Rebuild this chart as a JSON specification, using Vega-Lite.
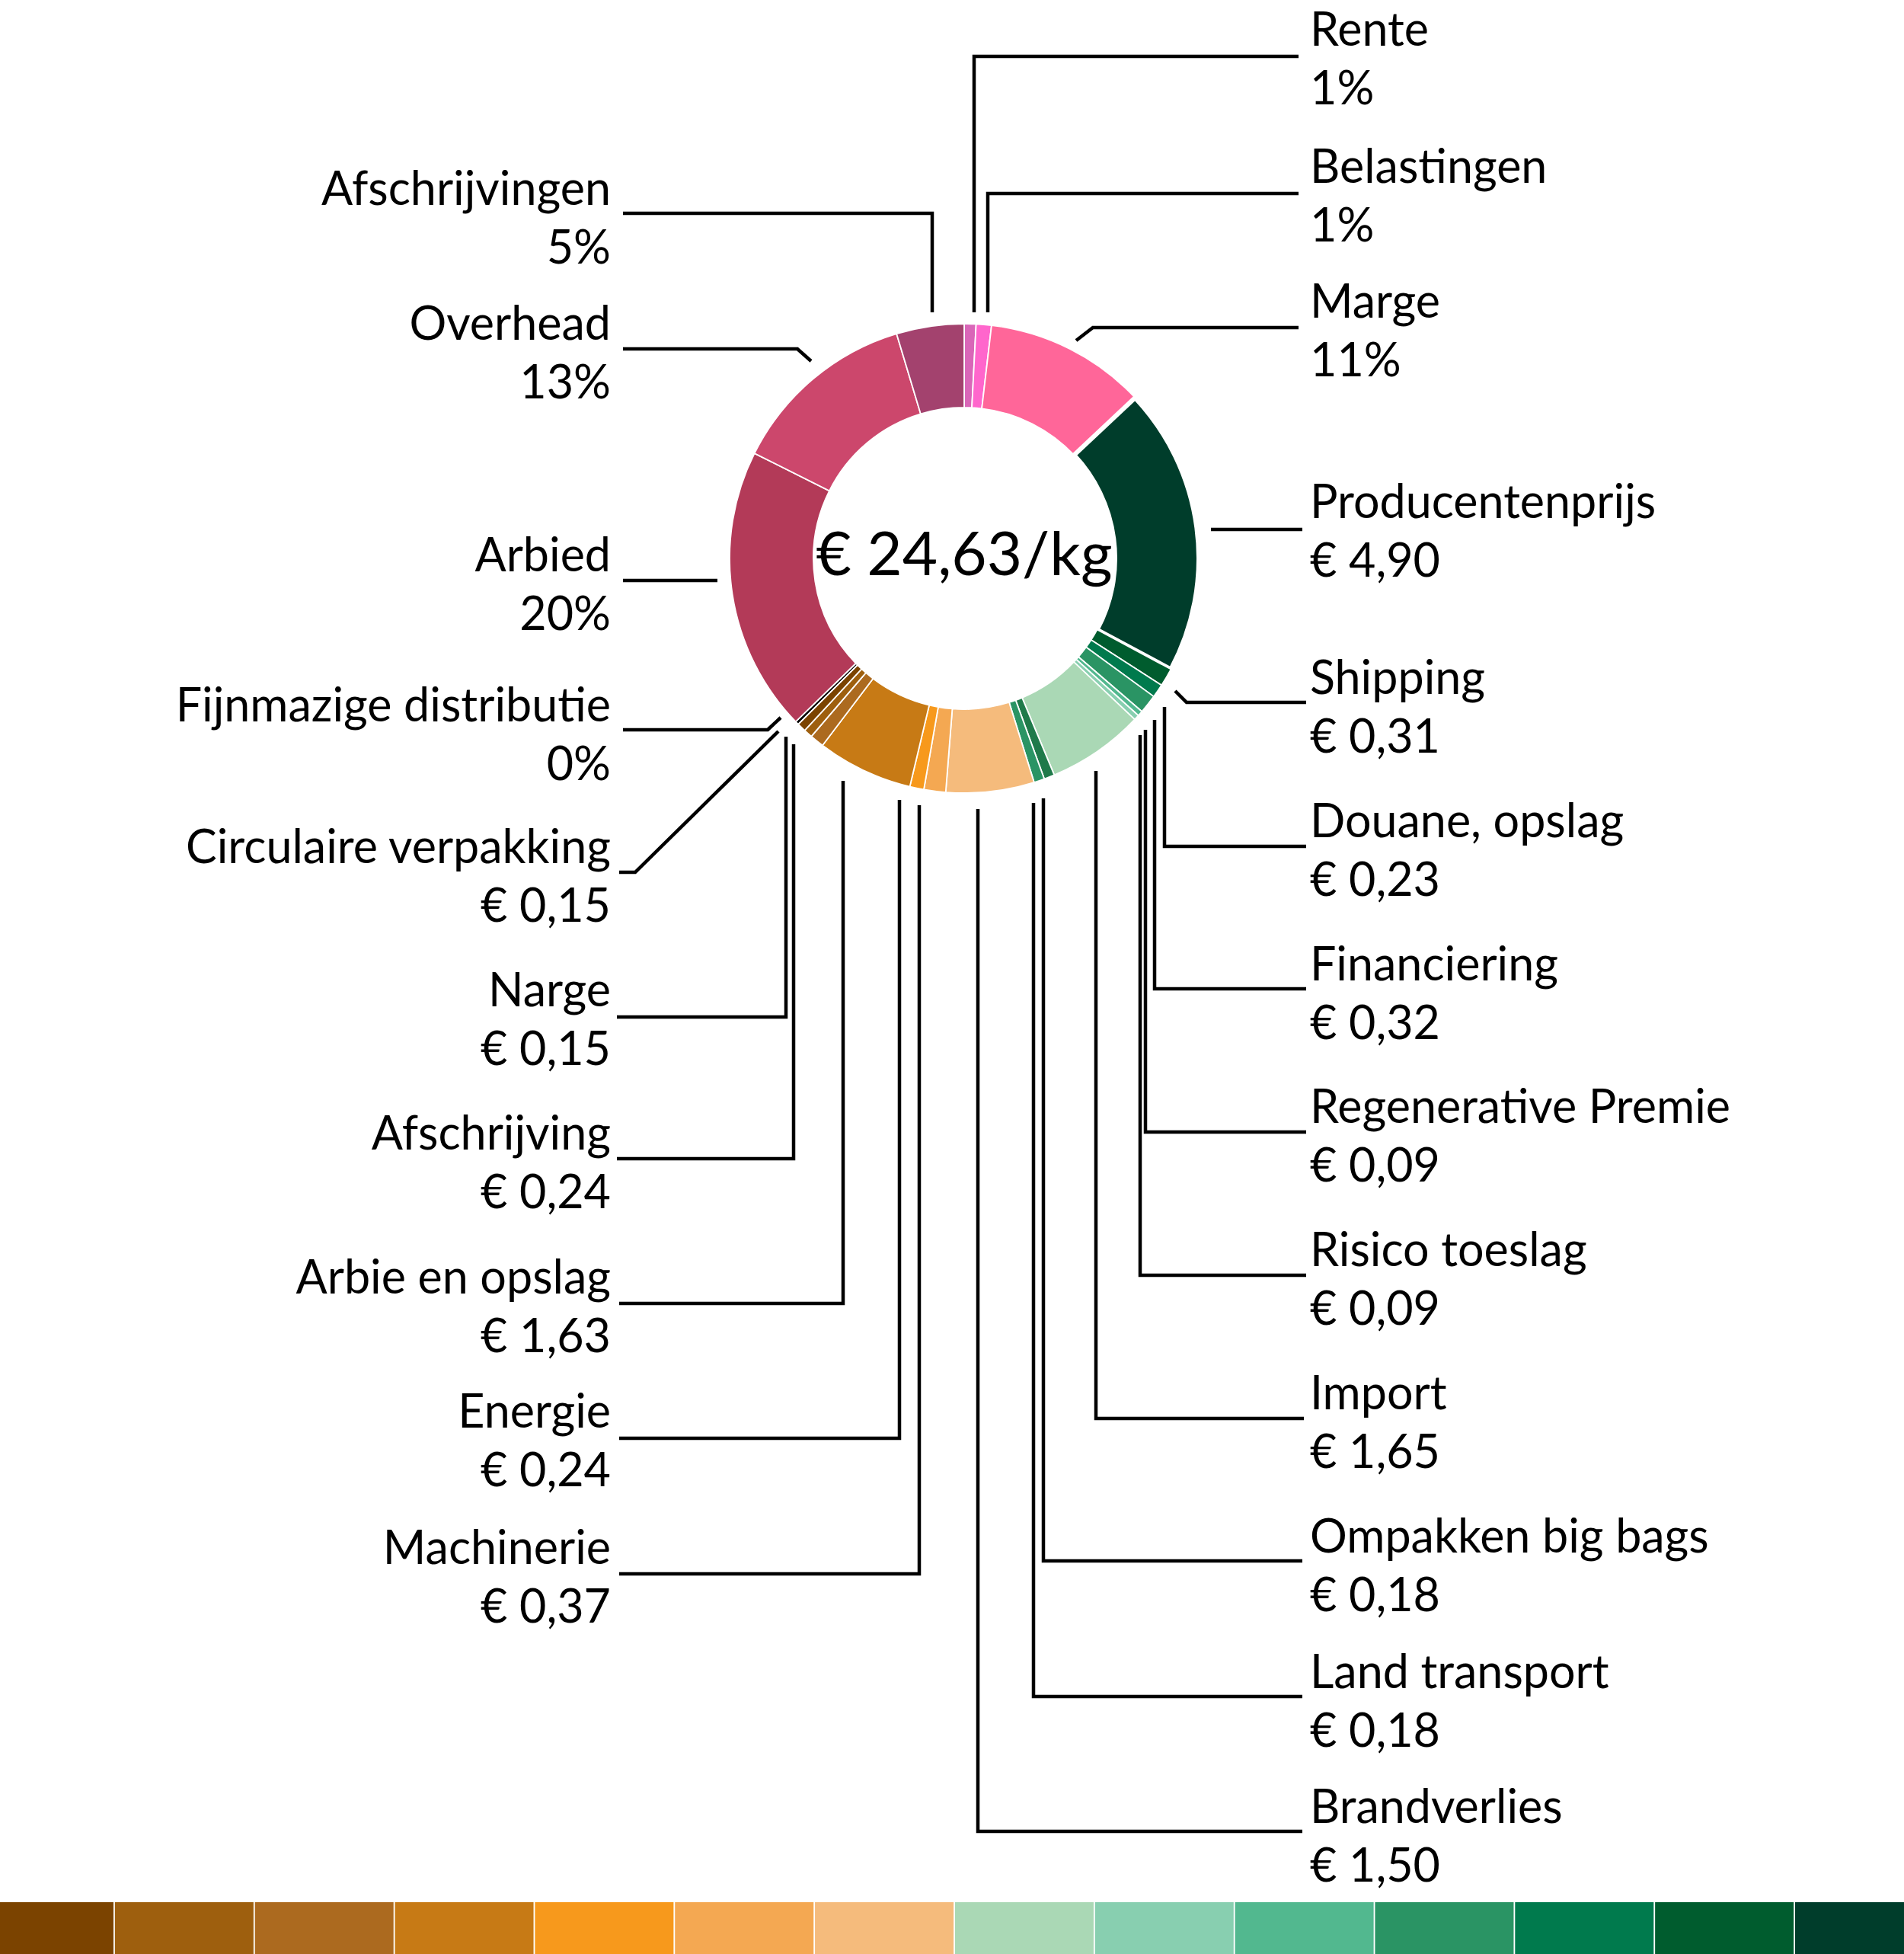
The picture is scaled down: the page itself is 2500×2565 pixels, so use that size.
{
  "$schema": "https://vega.github.io/schema/vega-lite/v6.json",
  "width": 2500,
  "height": 2565,
  "autosize": "none",
  "padding": 0,
  "background": "#ffffff",
  "config": {"view": {"stroke": null}, "text": {"font": "Lato", "color": "#000000"}},
  "datasets": {
    "items": [
      {"name": "Rente", "value": 0.2, "idx": 0},
      {"name": "Belastingen", "value": 0.26, "idx": 1},
      {"name": "Marge", "value": 2.75, "idx": 2},
      {"name": "Producentenprijs", "value": 4.90, "idx": 3},
      {"name": "Shipping", "value": 0.31, "idx": 4},
      {"name": "Douane, opslag", "value": 0.23, "idx": 5},
      {"name": "Financiering", "value": 0.32, "idx": 6},
      {"name": "Regenerative Premie", "value": 0.09, "idx": 7},
      {"name": "Risico toeslag", "value": 0.09, "idx": 8},
      {"name": "Import", "value": 1.65, "idx": 9},
      {"name": "Ompakken big bags", "value": 0.18, "idx": 10},
      {"name": "Land transport", "value": 0.18, "idx": 11},
      {"name": "Brandverlies", "value": 1.50, "idx": 12},
      {"name": "Machinerie", "value": 0.37, "idx": 13},
      {"name": "Energie", "value": 0.24, "idx": 14},
      {"name": "Arbie en opslag", "value": 1.63, "idx": 15},
      {"name": "Afschrijving", "value": 0.24, "idx": 16},
      {"name": "Narge", "value": 0.15, "idx": 17},
      {"name": "Circulaire verpakking", "value": 0.15, "idx": 18},
      {"name": "Fijnmazige distributie", "value": 0.06, "idx": 19},
      {"name": "Arbied", "value": 4.85, "idx": 20},
      {"name": "Overhead", "value": 3.2, "idx": 21},
      {"name": "Afschrijvingen", "value": 1.15, "idx": 22}
    ],
    "labels": [
      {"name": "Rente", "disp": "1%", "side": "right", "ly": 60},
      {"name": "Belastingen", "disp": "1%", "side": "right", "ly": 240},
      {"name": "Marge", "disp": "11%", "side": "right", "ly": 417},
      {"name": "Producentenprijs", "disp": "€ 4,90", "side": "right", "ly": 680},
      {"name": "Shipping", "disp": "€ 0,31", "side": "right", "ly": 911},
      {"name": "Douane, opslag", "disp": "€ 0,23", "side": "right", "ly": 1099},
      {"name": "Financiering", "disp": "€ 0,32", "side": "right", "ly": 1287},
      {"name": "Regenerative Premie", "disp": "€ 0,09", "side": "right", "ly": 1474},
      {"name": "Risico toeslag", "disp": "€ 0,09", "side": "right", "ly": 1662},
      {"name": "Import", "disp": "€ 1,65", "side": "right", "ly": 1850},
      {"name": "Ompakken big bags", "disp": "€ 0,18", "side": "right", "ly": 2038},
      {"name": "Land transport", "disp": "€ 0,18", "side": "right", "ly": 2216},
      {"name": "Brandverlies", "disp": "€ 1,50", "side": "right", "ly": 2393},
      {"name": "Afschrijvingen", "disp": "5%", "side": "left", "ly": 269},
      {"name": "Overhead", "disp": "13%", "side": "left", "ly": 446},
      {"name": "Arbied", "disp": "20%", "side": "left", "ly": 750},
      {"name": "Fijnmazige distributie", "disp": "0%", "side": "left", "ly": 947},
      {"name": "Circulaire verpakking", "disp": "€ 0,15", "side": "left", "ly": 1133},
      {"name": "Narge", "disp": "€ 0,15", "side": "left", "ly": 1321},
      {"name": "Afschrijving", "disp": "€ 0,24", "side": "left", "ly": 1509},
      {"name": "Arbie en opslag", "disp": "€ 1,63", "side": "left", "ly": 1698},
      {"name": "Energie", "disp": "€ 0,24", "side": "left", "ly": 1874},
      {"name": "Machinerie", "disp": "€ 0,37", "side": "left", "ly": 2053}
    ],
    "leaders": [
      {"name": "Rente", "seq": 0, "px": 1705, "py": 74},
      {"name": "Rente", "seq": 1, "px": 1279, "py": 74},
      {"name": "Rente", "seq": 2, "px": 1279, "py": 410},
      {"name": "Belastingen", "seq": 0, "px": 1705, "py": 254},
      {"name": "Belastingen", "seq": 1, "px": 1297, "py": 254},
      {"name": "Belastingen", "seq": 2, "px": 1297, "py": 410},
      {"name": "Marge", "seq": 0, "px": 1705, "py": 430},
      {"name": "Marge", "seq": 1, "px": 1435, "py": 430},
      {"name": "Marge", "seq": 2, "px": 1413, "py": 447},
      {"name": "Producentenprijs", "seq": 0, "px": 1710, "py": 695},
      {"name": "Producentenprijs", "seq": 1, "px": 1590, "py": 695},
      {"name": "Shipping", "seq": 0, "px": 1715, "py": 922},
      {"name": "Shipping", "seq": 1, "px": 1558, "py": 922},
      {"name": "Shipping", "seq": 2, "px": 1543, "py": 907},
      {"name": "Douane, opslag", "seq": 0, "px": 1715, "py": 1111},
      {"name": "Douane, opslag", "seq": 1, "px": 1529, "py": 1111},
      {"name": "Douane, opslag", "seq": 2, "px": 1529, "py": 928},
      {"name": "Financiering", "seq": 0, "px": 1715, "py": 1298},
      {"name": "Financiering", "seq": 1, "px": 1516, "py": 1298},
      {"name": "Financiering", "seq": 2, "px": 1516, "py": 945},
      {"name": "Regenerative Premie", "seq": 0, "px": 1715, "py": 1486},
      {"name": "Regenerative Premie", "seq": 1, "px": 1504, "py": 1486},
      {"name": "Regenerative Premie", "seq": 2, "px": 1504, "py": 958},
      {"name": "Risico toeslag", "seq": 0, "px": 1715, "py": 1674},
      {"name": "Risico toeslag", "seq": 1, "px": 1497, "py": 1674},
      {"name": "Risico toeslag", "seq": 2, "px": 1497, "py": 965},
      {"name": "Import", "seq": 0, "px": 1712, "py": 1862},
      {"name": "Import", "seq": 1, "px": 1439, "py": 1862},
      {"name": "Import", "seq": 2, "px": 1439, "py": 1012},
      {"name": "Ompakken big bags", "seq": 0, "px": 1710, "py": 2049},
      {"name": "Ompakken big bags", "seq": 1, "px": 1370, "py": 2049},
      {"name": "Ompakken big bags", "seq": 2, "px": 1370, "py": 1048},
      {"name": "Land transport", "seq": 0, "px": 1710, "py": 2227},
      {"name": "Land transport", "seq": 1, "px": 1357, "py": 2227},
      {"name": "Land transport", "seq": 2, "px": 1357, "py": 1054},
      {"name": "Brandverlies", "seq": 0, "px": 1710, "py": 2404},
      {"name": "Brandverlies", "seq": 1, "px": 1284, "py": 2404},
      {"name": "Brandverlies", "seq": 2, "px": 1284, "py": 1062},
      {"name": "Afschrijvingen", "seq": 0, "px": 818, "py": 280},
      {"name": "Afschrijvingen", "seq": 1, "px": 1224, "py": 280},
      {"name": "Afschrijvingen", "seq": 2, "px": 1224, "py": 410},
      {"name": "Overhead", "seq": 0, "px": 818, "py": 458},
      {"name": "Overhead", "seq": 1, "px": 1047, "py": 458},
      {"name": "Overhead", "seq": 2, "px": 1065, "py": 474},
      {"name": "Arbied", "seq": 0, "px": 818, "py": 762},
      {"name": "Arbied", "seq": 1, "px": 942, "py": 762},
      {"name": "Fijnmazige distributie", "seq": 0, "px": 818, "py": 958},
      {"name": "Fijnmazige distributie", "seq": 1, "px": 1008, "py": 958},
      {"name": "Fijnmazige distributie", "seq": 2, "px": 1025, "py": 942},
      {"name": "Circulaire verpakking", "seq": 0, "px": 813, "py": 1145},
      {"name": "Circulaire verpakking", "seq": 1, "px": 834, "py": 1145},
      {"name": "Circulaire verpakking", "seq": 2, "px": 1022, "py": 960},
      {"name": "Narge", "seq": 0, "px": 810, "py": 1335},
      {"name": "Narge", "seq": 1, "px": 1032, "py": 1335},
      {"name": "Narge", "seq": 2, "px": 1032, "py": 967},
      {"name": "Afschrijving", "seq": 0, "px": 810, "py": 1521},
      {"name": "Afschrijving", "seq": 1, "px": 1042, "py": 1521},
      {"name": "Afschrijving", "seq": 2, "px": 1042, "py": 977},
      {"name": "Arbie en opslag", "seq": 0, "px": 813, "py": 1711},
      {"name": "Arbie en opslag", "seq": 1, "px": 1107, "py": 1711},
      {"name": "Arbie en opslag", "seq": 2, "px": 1107, "py": 1025},
      {"name": "Energie", "seq": 0, "px": 813, "py": 1888},
      {"name": "Energie", "seq": 1, "px": 1181, "py": 1888},
      {"name": "Energie", "seq": 2, "px": 1181, "py": 1050},
      {"name": "Machinerie", "seq": 0, "px": 813, "py": 2066},
      {"name": "Machinerie", "seq": 1, "px": 1207, "py": 2066},
      {"name": "Machinerie", "seq": 2, "px": 1207, "py": 1057}
    ],
    "center": [{"t": "€ 24,63/kg"}]
  },
  "resolve": {"scale": {"x": "independent"}},
  "layer": [
    {
      "data": {"name": "items"},
      "mark": {"type": "arc", "outerRadius": 308, "innerRadius": 198, "stroke": "#ffffff"},
      "encoding": {
        "theta": {"field": "value", "type": "quantitative", "stack": true},
        "order": {"field": "idx", "type": "quantitative"},
        "strokeWidth": {
          "condition": {"test": "datum.name === 'Producentenprijs'", "value": 6},
          "value": 1.8
        },
        "color": {
          "field": "name", "type": "nominal", "legend": null,
          "scale": {
            "domain": ["Rente", "Belastingen", "Marge", "Producentenprijs", "Shipping", "Douane, opslag", "Financiering", "Regenerative Premie", "Risico toeslag", "Import", "Ompakken big bags", "Land transport", "Brandverlies", "Machinerie", "Energie", "Arbie en opslag", "Afschrijving", "Narge", "Circulaire verpakking", "Fijnmazige distributie", "Arbied", "Overhead", "Afschrijvingen"],
            "range": ["#d966b8", "#ff66cc", "#ff6699", "#003d2b", "#005c2e", "#007a4d", "#2a9464", "#52b88f", "#88cfb0", "#aad8b5", "#1f7a4a", "#2a9464", "#f5bb7c", "#f4a852", "#f7991c", "#c77a15", "#ac6a1f", "#9e5f0e", "#7b4300", "#000000", "#b33a58", "#cc476c", "#a3426e"]
          }
        },
        "x": {"datum": 1266, "type": "quantitative", "scale": {"domain": [0, 2500], "nice": false, "zero": false}, "axis": null},
        "y": {"datum": 733, "type": "quantitative", "scale": {"domain": [0, 2565], "nice": false, "zero": false, "reverse": true}, "axis": null}
      }
    },
    {
      "data": {"name": "items"},
      "transform": [{"filter": {"field": "name", "oneOf": ["Circulaire verpakking", "Narge", "Afschrijving", "Arbie en opslag", "Energie", "Machinerie", "Brandverlies", "Import", "Risico toeslag", "Regenerative Premie", "Financiering", "Douane, opslag", "Shipping", "Producentenprijs"]}}],
      "mark": {"type": "rect", "clip": true},
      "encoding": {
        "x": {
          "field": "name", "type": "nominal", "axis": null,
          "sort": ["Circulaire verpakking", "Narge", "Afschrijving", "Arbie en opslag", "Energie", "Machinerie", "Brandverlies", "Import", "Risico toeslag", "Regenerative Premie", "Financiering", "Douane, opslag", "Shipping", "Producentenprijs"],
          "scale": {"type": "band", "range": [-33, 2539], "paddingInner": 0.01, "paddingOuter": 0}
        },
        "y": {"datum": 2497, "type": "quantitative", "scale": {"domain": [0, 2565], "nice": false, "zero": false, "reverse": true}, "axis": null},
        "y2": {"datum": 2565},
        "color": {
          "field": "name", "type": "nominal", "legend": null,
          "scale": {
            "domain": ["Rente", "Belastingen", "Marge", "Producentenprijs", "Shipping", "Douane, opslag", "Financiering", "Regenerative Premie", "Risico toeslag", "Import", "Ompakken big bags", "Land transport", "Brandverlies", "Machinerie", "Energie", "Arbie en opslag", "Afschrijving", "Narge", "Circulaire verpakking", "Fijnmazige distributie", "Arbied", "Overhead", "Afschrijvingen"],
            "range": ["#d966b8", "#ff66cc", "#ff6699", "#003d2b", "#005c2e", "#007a4d", "#2a9464", "#52b88f", "#88cfb0", "#aad8b5", "#1f7a4a", "#2a9464", "#f5bb7c", "#f4a852", "#f7991c", "#c77a15", "#ac6a1f", "#9e5f0e", "#7b4300", "#000000", "#b33a58", "#cc476c", "#a3426e"]
          }
        }
      }
    },
    {
      "data": {"name": "leaders"},
      "mark": {"type": "line", "stroke": "#000000", "strokeWidth": 4.5, "strokeJoin": "miter"},
      "encoding": {
        "x": {"field": "px", "type": "quantitative", "scale": {"domain": [0, 2500], "nice": false, "zero": false}, "axis": null},
        "y": {"field": "py", "type": "quantitative", "scale": {"domain": [0, 2565], "nice": false, "zero": false, "reverse": true}, "axis": null},
        "detail": {"field": "name", "type": "nominal"},
        "order": {"field": "seq", "type": "quantitative"}
      }
    },
    {
      "data": {"name": "labels"},
      "transform": [{"filter": "datum.side === 'right'"}],
      "mark": {"type": "text", "align": "left", "baseline": "alphabetic", "fontSize": 61},
      "encoding": {
        "x": {"datum": 1720, "type": "quantitative", "scale": {"domain": [0, 2500], "nice": false, "zero": false}, "axis": null},
        "y": {"field": "ly", "type": "quantitative", "scale": {"domain": [0, 2565], "nice": false, "zero": false, "reverse": true}, "axis": null},
        "text": {"field": "name"}
      }
    },
    {
      "data": {"name": "labels"},
      "transform": [{"filter": "datum.side === 'right'"}],
      "mark": {"type": "text", "align": "left", "baseline": "alphabetic", "fontSize": 61, "dy": 77},
      "encoding": {
        "x": {"datum": 1720, "type": "quantitative", "scale": {"domain": [0, 2500], "nice": false, "zero": false}, "axis": null},
        "y": {"field": "ly", "type": "quantitative", "scale": {"domain": [0, 2565], "nice": false, "zero": false, "reverse": true}, "axis": null},
        "text": {"field": "disp"}
      }
    },
    {
      "data": {"name": "labels"},
      "transform": [{"filter": "datum.side === 'left'"}],
      "mark": {"type": "text", "align": "right", "baseline": "alphabetic", "fontSize": 61},
      "encoding": {
        "x": {"datum": 802, "type": "quantitative", "scale": {"domain": [0, 2500], "nice": false, "zero": false}, "axis": null},
        "y": {"field": "ly", "type": "quantitative", "scale": {"domain": [0, 2565], "nice": false, "zero": false, "reverse": true}, "axis": null},
        "text": {"field": "name"}
      }
    },
    {
      "data": {"name": "labels"},
      "transform": [{"filter": "datum.side === 'left'"}],
      "mark": {"type": "text", "align": "right", "baseline": "alphabetic", "fontSize": 61, "dy": 77},
      "encoding": {
        "x": {"datum": 802, "type": "quantitative", "scale": {"domain": [0, 2500], "nice": false, "zero": false}, "axis": null},
        "y": {"field": "ly", "type": "quantitative", "scale": {"domain": [0, 2565], "nice": false, "zero": false, "reverse": true}, "axis": null},
        "text": {"field": "disp"}
      }
    },
    {
      "data": {"name": "center"},
      "mark": {"type": "text", "align": "center", "baseline": "alphabetic", "fontSize": 80},
      "encoding": {
        "x": {"datum": 1266, "type": "quantitative", "scale": {"domain": [0, 2500], "nice": false, "zero": false}, "axis": null},
        "y": {"datum": 755, "type": "quantitative", "scale": {"domain": [0, 2565], "nice": false, "zero": false, "reverse": true}, "axis": null},
        "text": {"field": "t"}
      }
    }
  ]
}
